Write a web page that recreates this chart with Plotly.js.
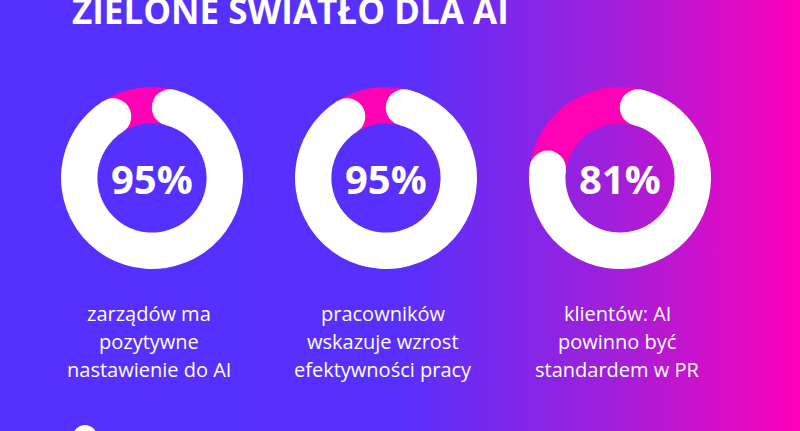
<!DOCTYPE html>
<html><head><meta charset="utf-8">
<script src="https://cdn.plot.ly/plotly-3.0.1.min.js"></script>
<style>
html,body{margin:0;padding:0;overflow:hidden;background:#5530ff}
#chart{width:800px;height:431px;background:linear-gradient(90deg,#5530ff 0%,#5830fd 50%,#a21fd9 77%,#ff00bb 100%);}
</style></head><body><div id="chart"></div>
<script>
// ---- data ----
const chartTitle = 'ZIELONE ŚWIATŁO DLA AI';
const values = [95, 95, 81];
const percentLabels = ['95%', '95%', '81%'];
const descriptions = [
  ['zarządów ma', 'pozytywne', 'nastawienie do AI'],
  ['pracowników', 'wskazuje wzrost', 'efektywności pracy'],
  ['klientów: AI', 'powinno być', 'standardem w PR']
];

// ---- layout geometry ----
const W = 800, H = 431;
const centersX = [152, 386, 620];
const centerY = 178;
const R = 91;
const HOLE = 0.6;
const WHITE = '#ffffff', PINK = '#ff02b6';
const FONT = 'Open Sans';

const thickness = R * (1 - HOLE);
const capR = thickness / 2;
const midR = R - capR;
const capDeg = (capR / midR) * 180 / Math.PI;   // angular size of rounded cap
const capPct = capDeg / 3.6;

const traces = [];
const shapes = [];
const annotations = [];

values.forEach((v, i) => {
  const cx = centersX[i];
  traces.push({
    type: 'pie',
    values: [v - 2 * capPct, 100 - v + 2 * capPct],
    marker: {colors: [WHITE, PINK], line: {width: 0}},
    hole: HOLE,
    sort: false,
    direction: 'clockwise',
    rotation: capDeg,
    textinfo: 'none',
    hoverinfo: 'skip',
    showlegend: false,
    domain: {x: [(cx - R) / W, (cx + R) / W], y: [1 - (centerY + R) / H, 1 - (centerY - R) / H]}
  });
  // rounded caps at both ends of the white arc
  [capDeg, v * 3.6 - capDeg].forEach(a => {
    const rad = a * Math.PI / 180;
    const dx = midR * Math.sin(rad), dy = midR * Math.cos(rad);
    shapes.push({
      type: 'circle', layer: 'above',
      xref: 'paper', yref: 'paper',
      xsizemode: 'pixel', ysizemode: 'pixel',
      xanchor: cx / W, yanchor: 1 - centerY / H,
      x0: dx - capR, x1: dx + capR, y0: dy - capR, y1: dy + capR,
      fillcolor: WHITE, line: {width: 0}
    });
  });
  annotations.push({
    xref: 'paper', yref: 'paper', x: cx / W, y: 1 - centerY / H,
    xanchor: 'center', yanchor: 'middle', showarrow: false,
    text: percentLabels[i],
    font: {family: FONT, size: 40, color: WHITE, weight: 700}
  });
  descriptions[i].forEach((line, k) => {
    annotations.push({
      xref: 'paper', yref: 'paper', x: (cx - 3) / W, y: 1 - (313 + 28 * k) / H,
      xanchor: 'center', yanchor: 'middle', showarrow: false,
      text: line,
      font: {family: FONT, size: 20, color: WHITE}
    });
  });
});

annotations.push({
  xref: 'paper', yref: 'paper', x: 290 / W, y: 1 - 10 / H,
  xanchor: 'center', yanchor: 'middle', showarrow: false,
  text: chartTitle,
  font: {family: FONT, size: 35, color: WHITE, weight: 700}
});

// decorative dot at bottom
shapes.push({
  type: 'circle', layer: 'above', xref: 'paper', yref: 'paper',
  xsizemode: 'pixel', ysizemode: 'pixel', xanchor: 85 / W, yanchor: 1 - 437 / H,
  x0: -12, x1: 12, y0: -12, y1: 12, fillcolor: WHITE, line: {width: 0}
});

Plotly.newPlot('chart', traces, {
  width: W, height: H,
  margin: {l: 0, r: 0, t: 0, b: 0},
  paper_bgcolor: 'rgba(0,0,0,0)',
  plot_bgcolor: 'rgba(0,0,0,0)',
  shapes: shapes,
  annotations: annotations
}, {displayModeBar: false, staticPlot: true});
</script></body></html>
